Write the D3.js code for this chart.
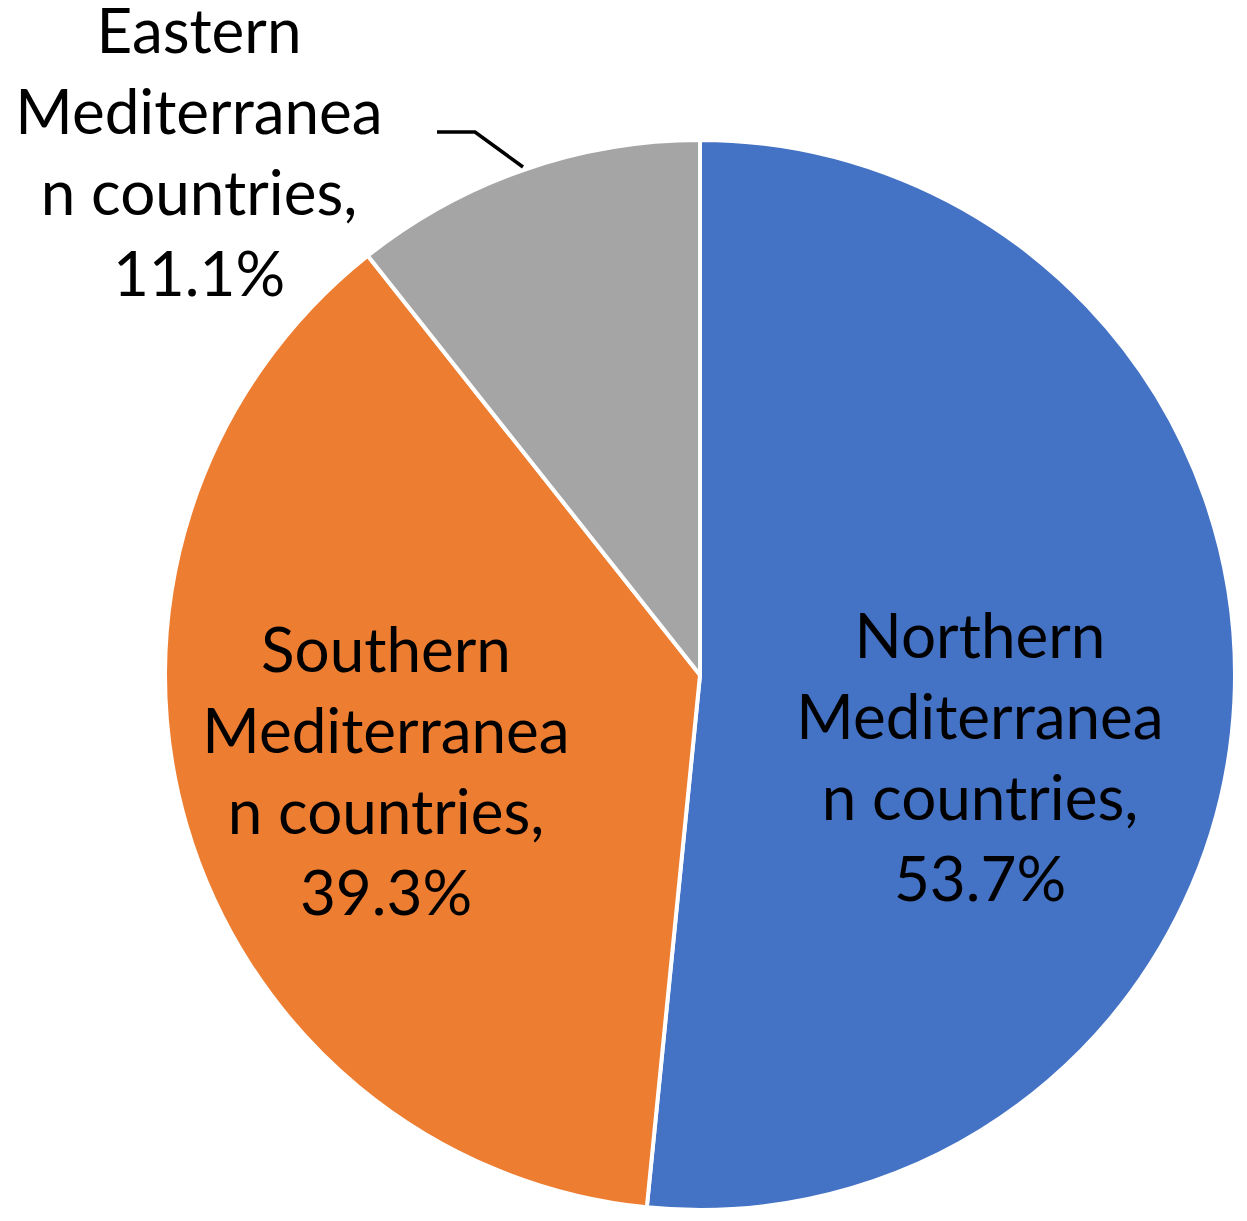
<!DOCTYPE html>
<html><head><meta charset="utf-8">
<script src="https://cdn.jsdelivr.net/npm/d3@7"></script>
<style>body{margin:0;background:#fff}svg{display:block}</style>
</head><body>
<script>
const categories = ["Northern Mediterranean countries", "Southern Mediterranean countries", "Eastern Mediterranean countries"];
const values = [53.7, 39.3, 11.1];
const labelLines = [
  ["Northern", "Mediterranea", "n countries,"],
  ["Southern", "Mediterranea", "n countries,"],
  ["Eastern", "Mediterranea", "n countries,"]
];
const colors = ["#4472C4", "#ED7D31", "#A5A5A5"];

const W = 1247, H = 1221;
const cx = 700, cy = 675, R = 535;
const svg = d3.select("body").append("svg").attr("width", W).attr("height", H);
const g = svg.append("g").attr("transform", `translate(${cx},${cy})`);

const pie = d3.pie().sort(null).value(d => d)(values);
const arc = d3.arc().innerRadius(0).outerRadius(R);

g.selectAll("path").data(pie).join("path")
  .attr("d", arc).attr("fill", (d, i) => colors[i])
  .attr("stroke", "#fff").attr("stroke-width", 4).attr("stroke-linejoin", "round");

// label anchor positions (center x, first baseline y)
const labelPos = [[980, 658], [386, 672], [199, 53]];
const lineH = 81;
const fontSize = 62;
labelPos.forEach((p, i) => {
  const lines = labelLines[i].concat([d3.format(".1f")(values[i]) + "%"]);
  const t = svg.append("text").attr("text-anchor", "middle")
    .attr("font-family", "Lato, 'Open Sans', sans-serif").attr("font-size", fontSize).attr("fill", "#000");
  lines.forEach((l, j) => t.append("tspan").attr("x", p[0]).attr("y", p[1] + j * lineH).text(l));
});

// leader line for Eastern label
svg.append("path")
  .attr("d", "M437,132 L475,132 L523,167")
  .attr("fill", "none").attr("stroke", "#000").attr("stroke-width", 3.5);
</script>
</body></html>
